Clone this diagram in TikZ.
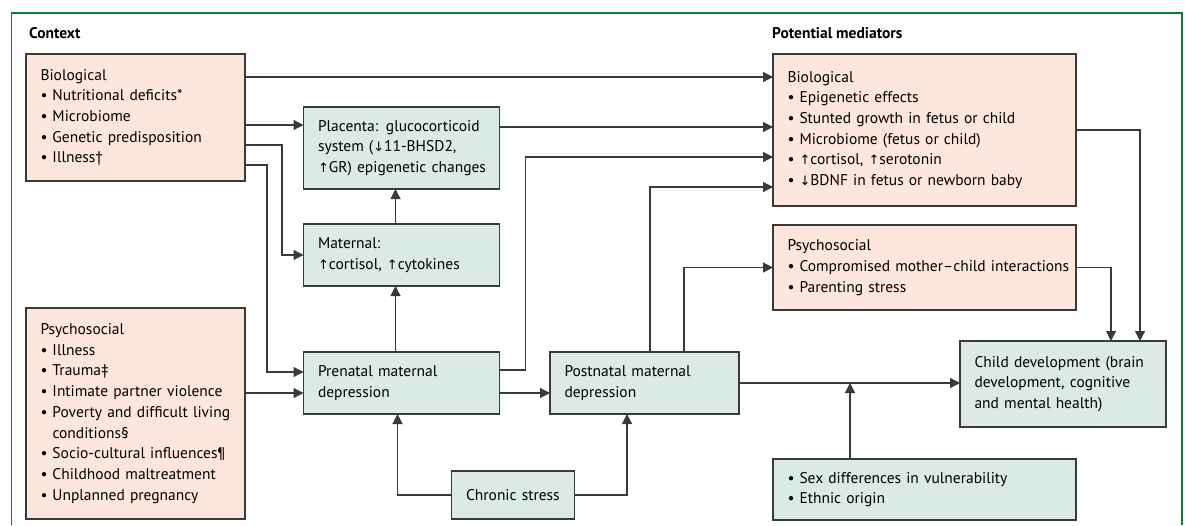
\documentclass[tikz,border=0pt]{standalone}
\usepackage{fontspec}
\setmainfont{PT Sans}
\newfontfamily\symfont{DejaVu Sans}
\usepackage{xcolor}
\usetikzlibrary{arrows.meta}

\definecolor{ctxfill}{HTML}{FDE7DC}
\definecolor{medfill}{HTML}{DBEAE3}
\definecolor{framegreen}{HTML}{0E7A3E}
\definecolor{edgegray}{HTML}{3A3A3A}
\newcommand{\uparr}{{\symfont\fontsize{13}{13}\selectfont↑}}
\newcommand{\dnarr}{{\symfont\fontsize{13}{13}\selectfont↓}}
\newcommand{\bul}{\makebox[12pt][l]{\textbullet}}
\newcommand{\cont}{\hspace*{12pt}}

\begin{document}
\begin{tikzpicture}[x=1pt,y=-1pt,
    font=\fontsize{15.5}{20.7}\selectfont,
    box/.style={draw=edgegray, line width=1.3pt, rectangle, anchor=north west,
      inner xsep=14.5pt, inner ysep=0pt, outer sep=0pt, align=left},
    ctx/.style={box, fill=ctxfill},
    med/.style={box, fill=medfill},
    arr/.style={draw=edgegray, line width=1.2pt, -{Triangle[length=10pt,width=10pt]}},
    head/.style={anchor=west, inner sep=0pt, font=\fontsize{15.5}{18}\selectfont\bfseries}]
  \useasboundingbox (0,0) rectangle (1185,525);
  \draw[framegreen, line width=1.5pt] (11.5,525) -- (11.5,13) -- (1182,13) -- (1182,525);

  \node[head] (hctx) at (29,33) {Context};
  \node[head] (hmed) at (772,33) {Potential mediators};

  % context
  \node[ctx, minimum width=219pt, minimum height=127pt, text width=190pt] (bioctx) at (26,54)
    {Biological\\ \bul Nutritional deficits*\\ \bul Microbiome\\ \bul Genetic predisposition\\ \bul Illness†};
  \node[ctx, minimum width=219pt, minimum height=211pt, text width=190pt] (psyctx) at (26,308)
    {Psychosocial\\ \bul Illness\\ \bul Trauma‡\\ \bul Intimate partner violence\\
     \bul Poverty and difficult living\\ \cont conditions§\\ \bul Socio-cultural influences¶\\
     \bul Childhood maltreatment\\ \bul Unplanned pregnancy};

  % middle column
  \node[med, minimum width=196pt, minimum height=82pt, text width=167pt] (placenta) at (303.5,107)
    {Placenta: glucocorticoid\\ system (\dnarr11-BHSD2,\\ \mbox{\uparr GR) epigenetic changes}};
  \node[med, minimum width=196pt, minimum height=62pt, text width=167pt] (maternal) at (303.5,224)
    {Maternal:\\ \uparr cortisol, \uparr cytokines};
  \node[med, minimum width=196pt, minimum height=62pt, text width=167pt] (prenatal) at (303.5,352)
    {Prenatal maternal\\ depression};
  \node[med, minimum width=189pt, minimum height=62pt, text width=160pt] (postnatal) at (550,352)
    {Postnatal maternal\\ depression};
  \node[med, minimum width=123pt, minimum height=48pt, text width=94pt] (chronic) at (451.6,471)
    {Chronic stress};

  % mediators
  \node[ctx, minimum width=303pt, minimum height=152pt, text width=274pt] (biomed) at (773,54)
    {Biological\\ \bul Epigenetic effects\\ \bul Stunted growth in fetus or child\\
     \bul Microbiome (fetus or child)\\ \bul \uparr cortisol, \uparr serotonin\\
     \bul \dnarr BDNF in fetus or newborn baby};
  \node[ctx, minimum width=303pt, minimum height=85pt, text width=274pt] (psymed) at (773,225)
    {Psychosocial\\ \mbox{\bul Compromised mother--child interactions}\\ \bul Parenting stress};
  \node[med, minimum width=303pt, minimum height=61pt, text width=274pt] (moder) at (773,459)
    {\bul Sex differences in vulnerability\\ \bul Ethnic origin};
  \node[med, minimum width=206pt, minimum height=86pt, text width=177pt] (child) at (960,341)
    {Child development (brain\\ development, cognitive\\ and mental health)};

  \coordinate (b1) at ([yshift=-23pt]bioctx.north east);
  \coordinate (b2) at ([yshift=-71pt]bioctx.north east);
  \coordinate (p1) at ([yshift=-20pt]placenta.north east);
  \coordinate (pin) at ([yshift=-10pt]prenatal.west);
  \coordinate (mtop) at ([xshift=77pt]moder.north west);
  \coordinate (join) at (mtop |- postnatal.east);

  \draw[arr] (b1) -- (b1 -| biomed.west);
  \draw[arr] (b2) -- (b2 -| placenta.west);
  \draw[arr] ([yshift=-91pt]bioctx.north east) -- ++(37,0) |- (maternal.west);
  \draw[arr] ([yshift=-111pt]bioctx.north east) -- ++(22,0) |- ([yshift=11pt]prenatal.west);
  \draw[arr] (psyctx.east |- pin) -- (pin);
  \draw[arr] ([xshift=-6pt]maternal.north) -- ([xshift=-6pt]placenta.south);
  \draw[arr] ([xshift=-6pt]prenatal.north) -- ([xshift=-6pt]maternal.south);
  \draw[arr] (p1) -- (p1 -| biomed.west);
  \draw[arr] ([yshift=13pt]prenatal.east) -- ++(26,0) |- ([yshift=-27pt]biomed.west);
  \draw[arr] ([yshift=-10pt]prenatal.east) -- ([yshift=-10pt]postnatal.west);
  \draw[arr] ([xshift=100pt]postnatal.north west) |- ([yshift=-57pt]biomed.west);
  \draw[arr] ([xshift=134pt]postnatal.north west) |- (psymed.west);
  \draw[arr] (postnatal.east) -- (postnatal.east -| child.west);
  \draw[arr] (mtop) -- (join);
  \draw[arr] (chronic.west) -| ([xshift=-4pt]prenatal.south);
  \draw[arr] (chronic.east) -| ([xshift=77pt]postnatal.south west);
  \draw[arr] (biomed.east) -| ([xshift=-26pt]child.north east);
  \draw[arr] (psymed.east) -| ([xshift=-55pt]child.north east);
\end{tikzpicture}
\end{document}
